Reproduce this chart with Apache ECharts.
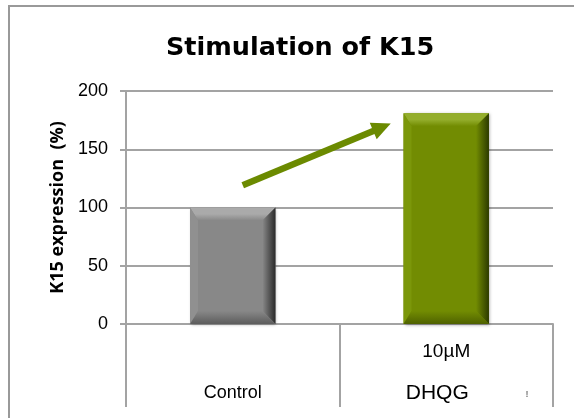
<!DOCTYPE html>
<html>
<head>
<meta charset="utf-8">
<script src="https://cdn.jsdelivr.net/npm/echarts@6/dist/echarts.min.js"></script>
<style>html,body{margin:0;padding:0;background:#fff;}#c{width:574px;height:418px;}</style>
</head>
<body>
<div id="c"></div>
<script>
// ---- data ----
const categories = ['Control', 'DHQG'];
const categorySubLabels = ['', '10µM'];
const values = [100, 181];
const yTicks = [0, 50, 100, 150, 200];
const titleText = 'Stimulation of K15';
const yAxisName = 'K15 expression  (%)';
// arrow annotation (data space)
const arrowFrom = [0, 119];
const arrowTo = [1, 172];

// ---- styles ----
const barPalette = [
  {main: '#888888', top: '#aaaaaa', left: '#909090', right: '#2a2a2a', bottom: '#5c5c5c'},
  {main: '#728c02', top: '#94ae2c', left: '#7b970a', right: '#2c3a00', bottom: '#4f6200'}
];
const gridColor = '#a3a3a3';

const chart = echarts.init(document.getElementById('c'), null, {renderer: 'canvas'});

function barItem(params, api) {
  const idx = api.value(0);
  const val = api.value(1);
  const base = api.coord([idx, 0]);
  const top = api.coord([idx, val]);
  const w = api.size([1, 0])[0] * 0.4;
  const x0 = base[0] - w / 2, x1 = base[0] + w / 2;
  const y0 = top[1], y1 = base[1];
  const b = 13, bl = 8;
  const p = barPalette[idx];
  return {
    type: 'group',
    children: [
      {type: 'rect', shape: {x: x0, y: y0, width: w, height: y1 - y0},
        style: {fill: p.main, shadowBlur: 3, shadowColor: 'rgba(0,0,0,0.35)', shadowOffsetX: 1, shadowOffsetY: 1}},
      {type: 'polygon', shape: {points: [[x0, y0], [x1, y0], [x1 - b, y0 + b], [x0 + bl, y0 + b]]},
        style: {fill: new echarts.graphic.LinearGradient(0, 0, 0, 1, [{offset: 0, color: p.top}, {offset: 0.5, color: p.top}, {offset: 1, color: p.main}])}},
      {type: 'polygon', shape: {points: [[x0, y0], [x0 + bl, y0 + b], [x0 + bl, y1 - b], [x0, y1]]},
        style: {fill: p.left}},
      {type: 'polygon', shape: {points: [[x1, y0], [x1, y1], [x1 - b, y1 - b], [x1 - b, y0 + b]]},
        style: {fill: new echarts.graphic.LinearGradient(0, 0, 1, 0, [{offset: 0, color: p.main}, {offset: 1, color: p.right}])}},
      {type: 'polygon', shape: {points: [[x0, y1], [x0 + bl, y1 - b], [x1 - b, y1 - b], [x1, y1]]},
        style: {fill: new echarts.graphic.LinearGradient(0, 0, 0, 1, [{offset: 0, color: p.main}, {offset: 1, color: p.bottom}])}}
    ]
  };
}

function arrowItem(params, api) {
  const a = api.coord(arrowFrom);
  const c = api.coord(arrowTo);
  const start = [a[0] + 10, a[1]];
  const tip = [c[0] - 55.5, c[1]];
  const dx = tip[0] - start[0], dy = tip[1] - start[1];
  const len = Math.sqrt(dx * dx + dy * dy);
  const ux = dx / len, uy = dy / len;
  const hl = 19, hw = 9;
  const bx = tip[0] - ux * hl, by = tip[1] - uy * hl;
  const nx = -uy, ny = ux;
  return {
    type: 'group',
    children: [
      {type: 'line', shape: {x1: start[0], y1: start[1], x2: bx + ux * 2, y2: by + uy * 2},
        style: {stroke: '#6b8a00', lineWidth: 6.5}},
      {type: 'polygon', shape: {points: [tip, [bx + nx * hw, by + ny * hw], [bx - nx * hw, by - ny * hw]]},
        style: {fill: '#6b8a00'}}
    ]
  };
}

const option = {
  backgroundColor: '#ffffff',
  animation: false,
  title: {
    text: titleText,
    left: 161, top: 30,
    textStyle: {fontFamily: 'DejaVu Sans', fontWeight: 'bold', fontSize: 25.5, color: '#000'}
  },
  grid: {left: 126, right: 21, top: 91, bottom: 94, containLabel: false},
  xAxis: {
    type: 'category',
    data: categories,
    boundaryGap: true,
    axisLine: {show: true, lineStyle: {color: gridColor, width: 2}},
    axisTick: {show: true, length: 83, lineStyle: {color: gridColor, width: 2}},
    axisLabel: {
      margin: 16,
      verticalAlign: 'top',
      formatter: function (v, i) {
        if (i === 0) return '{e| }\n{c|' + v + '}';
        return '{u|' + categorySubLabels[i] + '}\n{d|' + v + '}';
      },
      rich: {
        e: {lineHeight: 24, fontSize: 10},
        c: {lineHeight: 58, fontFamily: 'Liberation Sans', fontSize: 18, color: '#000'},
        u: {lineHeight: 24, fontFamily: 'Liberation Sans', fontSize: 19, color: '#000'},
        d: {lineHeight: 58, fontFamily: 'Liberation Sans', fontSize: 21, color: '#000', padding: [0, 18, 0, 0]}
      }
    },
    splitLine: {show: false}
  },
  yAxis: {
    type: 'value',
    min: yTicks[0], max: yTicks[yTicks.length - 1], interval: 50,
    name: yAxisName,
    nameLocation: 'middle',
    nameRotate: 90,
    nameGap: 59,
    nameTextStyle: {fontFamily: 'Open Sans', fontWeight: 'bold', fontSize: 18, color: '#000'},
    axisLine: {show: true, lineStyle: {color: gridColor, width: 2}},
    axisTick: {show: true, length: 6, lineStyle: {color: gridColor, width: 2}},
    axisLabel: {margin: 18, fontFamily: 'Liberation Sans', fontSize: 18, color: '#000'},
    splitLine: {show: true, lineStyle: {color: gridColor, width: 2}}
  },
  graphic: [
    {type: 'rect', shape: {x: 9, y: 6, width: 700, height: 600}, style: {fill: 'none', stroke: '#999', lineWidth: 2}, z: 100},
    {type: 'text', x: 527, y: 395, style: {text: '!', fontSize: 9, fontFamily: 'Liberation Sans', fill: '#333', align: 'center', verticalAlign: 'middle'}}
  ],
  series: [
    {type: 'custom', renderItem: barItem, data: values.map((v, i) => [i, v]), z: 3},
    {type: 'custom', renderItem: arrowItem, data: [[0, 0]], z: 4, clip: false}
  ]
};
chart.setOption(option);
</script>
</body>
</html>
